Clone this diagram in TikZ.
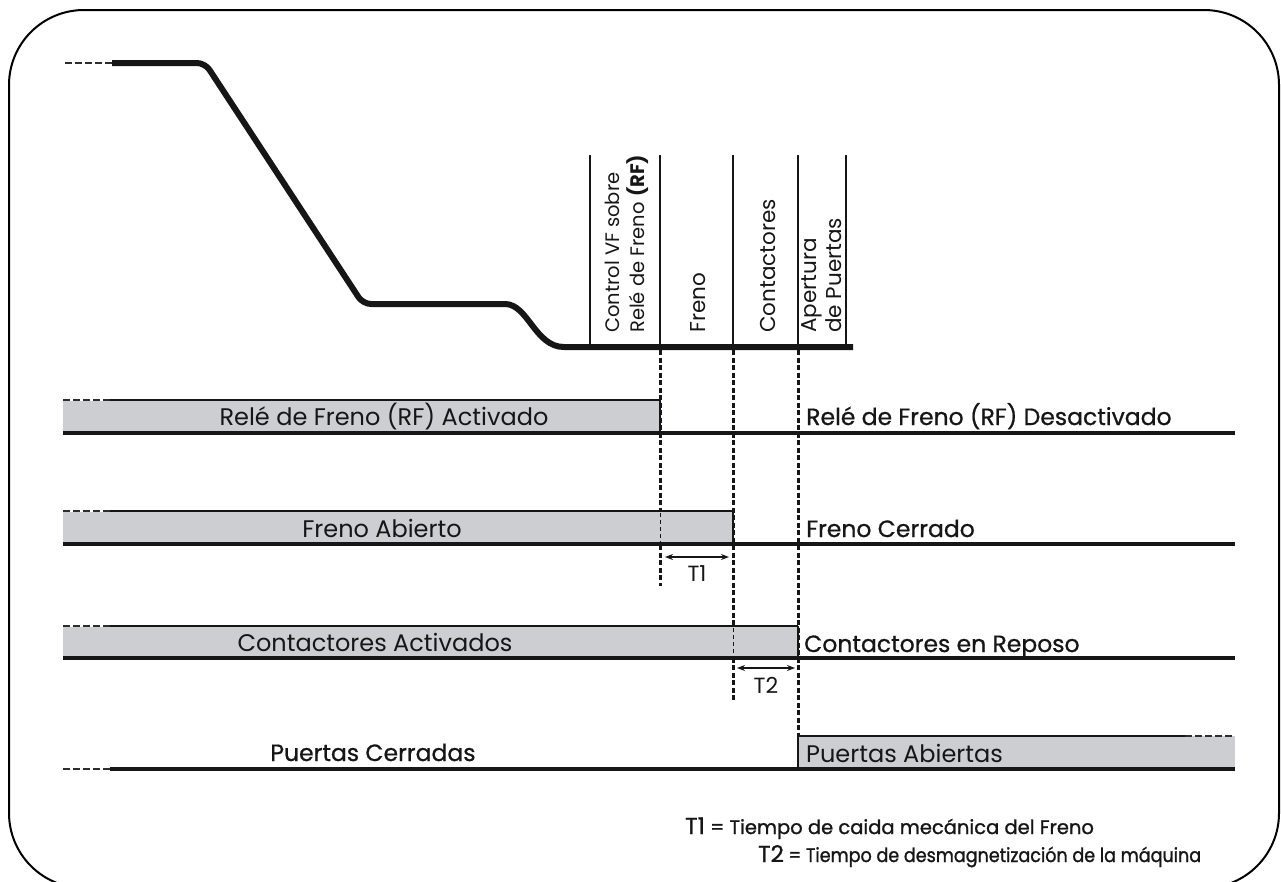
\documentclass[tikz,border=0pt]{standalone}
\usepackage{fontspec}
\setmainfont{Poppins}
\newfontfamily\heavyfont[FakeBold=0.8]{Poppins}
\newfontfamily\legfont[FakeBold=1.2]{Poppins}
\newfontfamily\legnarrow[FakeBold=1.2,FakeStretch=0.9]{Poppins}
\usetikzlibrary{arrows.meta}
\definecolor{boxgray}{RGB}{205,206,210}
\definecolor{ink}{RGB}{22,22,22}
\begin{document}
\begin{tikzpicture}[x=1pt,y=-1pt,
  frame/.style={draw=black,line width=2pt,rounded corners=75pt},
  speed/.style={draw=ink,line width=6pt,line join=round},
  lead/.style={draw=ink!90,line width=2.6pt,dash pattern=on 7pt off 3pt},
  colline/.style={draw=ink,line width=2.6pt},
  topline/.style={draw=ink,line width=2.4pt},
  botline/.style={draw=ink,line width=3.4pt},
  bar/.style={fill=boxgray},
  marker/.style={draw=ink,line width=3pt,dash pattern=on 5pt off 2.5pt},
  innermark/.style={draw=ink,line width=0.9pt,dash pattern=on 4pt off 3pt},
  rowtxt/.style={font=\fontsize{24}{26}\selectfont,text=ink,inner sep=0pt,anchor=base},
  righttxt/.style={font=\heavyfont\fontsize{23.5}{26}\selectfont,text=ink,inner sep=0pt,anchor=base west},
  coltxt/.style={font=\fontsize{21.5}{25}\selectfont,text=ink,rotate=90,anchor=west,align=left,inner sep=0pt},
  dim/.style={draw=ink,line width=1.5pt,{Stealth[length=8pt,width=6pt]}-{Stealth[length=8pt,width=6pt]}},
  tlabel/.style={font=\fontsize{22}{24}\selectfont,text=ink,anchor=base,inner sep=0pt},
  legend/.style={font=\legfont\fontsize{19.5}{21}\selectfont,text=ink,anchor=base west,inner sep=0pt},
  legendb/.style={font=\legnarrow\fontsize{19.5}{21}\selectfont,text=ink,anchor=base west,inner sep=0pt},
]
\useasboundingbox (0,0) rectangle (1281,881);
\begin{scope}
\clip (0,0) rectangle (1281,881);
\draw[frame] (9,10) rectangle (1279,888);
\end{scope}

% speed profile
\coordinate (s0) at (65,63);
\coordinate (s1) at (112,63);
\coordinate (s2) at (853,347);
\draw[lead] (s0) -- (s1);
\draw[speed,rounded corners=8pt] (s1) -- (205,63) -- (363,304) -- (497,304)
  .. controls (528,304) and (535,347) .. (572,347) -- (s2);

% column separators
\foreach \n/\x in {a/590,b/660,c/733,d/798,e/846}{
  \coordinate (top\n) at (\x,155);
  \coordinate (bot\n) at (\x,345);
  \draw[colline] (top\n) -- (bot\n);
}
\node[coltxt,font=\fontsize{19.5}{25}\selectfont] (lblcontrol) at (627,333) {Control VF sobre\\Relé de Freno \textbf{(RF)}};
\node[coltxt] (lblfreno) at (698,333) {Freno};
\node[coltxt] (lblcont) at (768,333) {Contactores};
\node[coltxt] (lblapert) at (822,333) {Apertura\\de Puertas};

% event markers (dotted)
\coordinate (m1a) at (660,350); \coordinate (m1b) at (660,586);
\coordinate (m2a) at (733,350); \coordinate (m2b) at (733,700);
\coordinate (m3a) at (798,350); \coordinate (m3b) at (798,736);
\draw[marker] (m1a) -- (m1b);
\draw[marker] (m2a) -- (m2b);
\draw[marker] (m3a) -- (m3b);

% row 1 : relay
\fill[bar] (63,401) rectangle (660,433);
\draw[lead] (63,400) -- (110,400);
\draw[topline] (110,400) -- (660,400);
\draw[colline] (660,400) -- (660,433);
\draw[botline] (63,433) -- (1235,433);
\node[rowtxt] (r1l) at (384,425) {Relé de Freno (RF) Activado};
\node[righttxt] (r1r) at (806,425) {Relé de Freno (RF) Desactivado};

% row 2 : brake
\fill[bar] (63,512) rectangle (733,544);
\draw[innermark] (660,513) -- (660,543);
\draw[lead] (63,511) -- (110,511);
\draw[topline] (110,511) -- (733,511);
\draw[colline] (733,511) -- (733,544);
\draw[botline] (63,544) -- (1235,544);
\node[rowtxt] (r2l) at (382,537) {Freno Abierto};
\node[righttxt] (r2r) at (806,537) {Freno Cerrado};

% row 3 : contactors
\fill[bar] (63,627) rectangle (798,658);
\draw[innermark] (733,628) -- (733,657);
\draw[lead] (63,626) -- (110,626);
\draw[topline] (110,626) -- (798,626);
\draw[colline] (798,626) -- (798,658);
\draw[botline] (63,658) -- (1235,658);
\node[rowtxt] (r3l) at (375,651) {Contactores Activados};
\node[righttxt] (r3r) at (804,652) {Contactores en Reposo};

% row 4 : doors
\fill[bar] (798,736) rectangle (1235,769);
\draw[lead] (63,769) -- (110,769);
\draw[botline] (110,769) -- (1235,769);
\draw[colline] (798,736) -- (798,769);
\draw[topline] (798,736) -- (1185,736);
\draw[lead] (1185,736) -- (1235,736);
\node[righttxt,anchor=base] (r4l) at (373,761) {Puertas Cerradas};
\node[rowtxt,anchor=base west] (r4r) at (806,762) {Puertas Abiertas};

% time intervals
\coordinate (t1a) at (665,557); \coordinate (t1b) at (729,557);
\draw[dim] (t1a) -- (t1b);
\node[tlabel] (t1lbl) at (697,581) {T1};
\coordinate (t2a) at (737,668); \coordinate (t2b) at (795,668);
\draw[dim] (t2a) -- (t2b);
\node[tlabel] (t2lbl) at (766,693) {T2};

% legend
\node[legend] (leg1) at (685,834) {{\fontsize{23}{24}\selectfont T1} = Tiempo de caida mecánica del Freno};
\node[legendb] (leg2) at (758,862) {{\legfont\fontsize{23}{24}\selectfont T2} = Tiempo de desmagnetización de la máquina};
\end{tikzpicture}
\end{document}
